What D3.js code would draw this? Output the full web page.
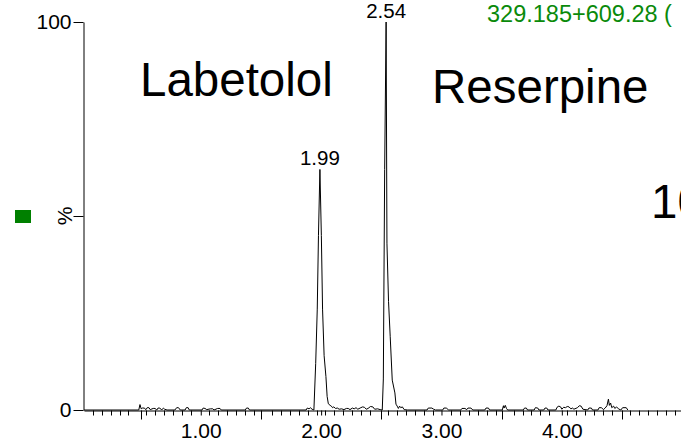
<!DOCTYPE html>
<html>
<head>
<meta charset="utf-8">
<script src="https://cdn.jsdelivr.net/npm/d3@7"></script>
<style>
  html, body { margin: 0; padding: 0; background: #fff; }
  svg { display: block; font-family: "Liberation Sans", Arial, sans-serif; }
</style>
</head>
<body>
<script>
// Chromatogram trace: retention time (min) and relative intensity (%)
const rt = [
  0.03, 0.485, 0.495, 0.505, 0.515, 0.53, 0.545, 0.555, 0.57, 0.58,
  0.605, 0.62, 0.635, 0.645, 0.66, 0.675, 0.69, 0.70, 0.72, 0.785,
  0.80, 0.815, 0.83, 0.87, 0.88, 0.895, 0.905, 1.01, 1.02, 1.035,
  1.05, 1.08, 1.10, 1.11, 1.14, 1.16, 1.17, 1.37, 1.38, 1.395,
  1.405, 1.875, 1.885, 1.90, 1.91, 1.925, 1.94, 1.955, 1.968, 1.978,
  1.99, 2.002, 2.012, 2.025, 2.04, 2.05, 2.06, 2.075, 2.085, 2.095,
  2.105, 2.12, 2.135, 2.15, 2.17, 2.19, 2.21, 2.225, 2.24, 2.26,
  2.275, 2.29, 2.305, 2.33, 2.345, 2.36, 2.375, 2.39, 2.41, 2.43,
  2.445, 2.47, 2.49, 2.508, 2.517, 2.528, 2.54, 2.547, 2.56, 2.574,
  2.591, 2.613, 2.622, 2.632, 2.642, 2.652, 2.662, 2.675, 2.69, 2.72,
  2.88, 2.89, 2.92, 2.935, 2.95, 3.01, 3.02, 3.04, 3.06, 3.16,
  3.17, 3.195, 3.21, 3.22, 3.245, 3.26, 3.36, 3.37, 3.39, 3.40,
  3.505, 3.515, 3.52, 3.53, 3.54, 3.55, 3.68, 3.69, 3.705, 3.715,
  3.77, 3.78, 3.80, 3.81, 3.85, 3.86, 3.875, 3.885, 3.95, 3.96,
  3.975, 3.99, 4.00, 4.015, 4.03, 4.045, 4.06, 4.075, 4.09, 4.10,
  4.13, 4.145, 4.16, 4.175, 4.215, 4.225, 4.245, 4.255, 4.30, 4.31,
  4.33, 4.345, 4.36, 4.375, 4.387, 4.395, 4.405, 4.415, 4.43, 4.44,
  4.455, 4.47, 4.49, 4.505, 4.535, 4.548
];
const intensity = [
  0, 0, 1.4, 0.3, 0.5, 0.5, 0.1, 0.6, 0.6, 0.1,
  0.4, 0.4, 0, 0.5, 0.5, 0, 0.5, 0.2, 0, 0,
  0.6, 0.6, 0, 0, 0.6, 0.6, 0, 0, 0.5, 0.4,
  0.1, 0.3, 0.3, 0, 0.4, 0.4, 0, 0, 0.5, 0.5,
  0, 0, 0.5, 0.3, 0.6, 0.2, 0, 12, 26, 45,
  62, 45, 26, 14, 8.6, 3.5, 1.6, 1.2, 1.0, 0.6,
  0.8, 0.4, 0.5, 0.2, 0.3, 0.1, 0.4, 0.4, 0.1, 0.5,
  0.3, 0.6, 0.2, 0.6, 0.8, 0.7, 0.2, 0.4, 0.9, 0.8,
  0.2, 0.3, 0.1, 0, 8, 62, 100, 43, 28, 19,
  7.7, 4.4, 1.5, 1.0, 0.4, 1.0, 0.6, 0.8, 0.1, 0,
  0, 0.5, 0.5, 0.2, 0, 0, 0.5, 0.5, 0, 0,
  0.4, 0.4, 0.1, 0.5, 0.5, 0, 0, 0.5, 0.5, 0,
  0, 1.1, 0.5, 1.2, 0.4, 0, 0, 0.5, 0.5, 0,
  0, 0.6, 0.5, 0, 0, 0.5, 0.5, 0, 0, 0.7,
  1.0, 0.8, 0.2, 0.7, 0.6, 0.9, 0.8, 0.3, 0.5, 0.2,
  0.6, 1.1, 1.0, 0.2, 0, 0.5, 0.5, 0, 0, 0.6,
  0.6, 0.1, 0.5, 1.1, 2.8, 1.2, 1.8, 0.6, 1.0, 0.4,
  0.8, 0.3, 0, 0.6, 0.6, 0
];

// Apex annotations
const peakTimes = [1.99, 2.54];
const peakLabels = ["1.99", "2.54"];

// Axis ticks
const xLabelTicks = [1, 2, 3, 4];
const xHalfTicks = [0.5, 1.5, 2.5, 3.5, 4.5];
const yLabelTicks = [0, 100];

// Compound names and header text
const compoundNames = ["Labetolol", "Reserpine"];
const transitionText = "329.185+609.28 (";
const sideText = "100";

const W = 681, H = 441;
const svg = d3.select("body").append("svg").attr("width", W).attr("height", H);

const x = d3.scaleLinear().domain([0.03, 4.99]).range([84, 681]);
const y = d3.scaleLinear().domain([0, 100]).range([410, 22]);

const FS = 21;

// transition header
svg.append("text")
  .attr("x", 487).attr("y", 22)
  .attr("fill", "#0a8a0a").attr("font-size", 23.5)
  .text(transitionText);

// legend swatch
svg.append("rect").attr("x", 15).attr("y", 210).attr("width", 16).attr("height", 13).attr("fill", "#008000");

// x axis
const xAxis = d3.axisBottom(x)
  .tickValues(xLabelTicks)
  .tickSize(5)
  .tickSizeOuter(0)
  .tickPadding(8)
  .tickFormat(d3.format(".2f"));
const gx = svg.append("g").attr("transform", "translate(0,410.5)").call(xAxis);
gx.select(".domain").attr("stroke", "#000");
gx.selectAll("text").attr("font-size", FS).attr("font-family", null).attr("fill", "#000");
gx.selectAll(".tick line").attr("stroke", "#000");

// half-unit long ticks
gx.selectAll("line.half").data(xHalfTicks).join("line")
  .attr("class", "half")
  .attr("x1", d => Math.round(x(d)) + 0.5).attr("x2", d => Math.round(x(d)) + 0.5)
  .attr("y1", 0).attr("y2", 9).attr("stroke", "#000");

// minor ticks
const minor = d3.range(0.102, 4.99, 0.0744)
  .filter(v => !xLabelTicks.concat(xHalfTicks).some(t => Math.abs(t - v) < 0.03));
gx.selectAll("line.minor").data(minor).join("line")
  .attr("class", "minor")
  .attr("x1", d => Math.round(x(d)) + 0.5).attr("x2", d => Math.round(x(d)) + 0.5)
  .attr("y1", 0).attr("y2", 5).attr("stroke", "#000");

// y axis
const yAxis = d3.axisLeft(y)
  .tickValues(yLabelTicks)
  .tickSize(10)
  .tickSizeOuter(0)
  .tickPadding(2)
  .tickFormat(d3.format("d"));
const gy = svg.append("g").attr("transform", "translate(83.5,0)").call(yAxis);
gy.select(".domain").attr("stroke", "#000");
gy.selectAll("text").attr("font-size", FS).attr("font-family", null).attr("fill", "#000");
gy.selectAll(".tick line").attr("stroke", "#000");

// mid tick with percent sign
gy.append("line").attr("x1", -10).attr("x2", 0)
  .attr("y1", Math.round(y(50)) + 0.5).attr("y2", Math.round(y(50)) + 0.5)
  .attr("stroke", "#000");
svg.append("text")
  .attr("transform", `translate(72,${y(50)}) rotate(-90)`)
  .attr("text-anchor", "middle")
  .attr("font-size", FS)
  .text("%");

// trace
const pts = rt.map((t, i) => [t, intensity[i]]);
const line = d3.line().x(d => x(d[0])).y(d => y(d[1]));
svg.append("path")
  .datum(pts)
  .attr("d", line)
  .attr("fill", "none")
  .attr("stroke", "#000")
  .attr("stroke-width", 1);

// apex labels
peakTimes.forEach((t, i) => {
  const idx = rt.indexOf(t);
  svg.append("text")
    .attr("x", x(t)).attr("y", y(intensity[idx]) - 4)
    .attr("text-anchor", "middle")
    .attr("font-size", 20.5)
    .text(peakLabels[i]);
});

// compound names
svg.append("text").attr("x", 140).attr("y", 96).attr("font-size", 47.5).text(compoundNames[0]);
svg.append("text").attr("x", 432).attr("y", 103).attr("font-size", 47.5).text(compoundNames[1]);

// side annotation cut by the right edge
svg.append("text").attr("x", 651).attr("y", 218).attr("font-size", 47.5).text(sideText);
</script>
</body>
</html>
